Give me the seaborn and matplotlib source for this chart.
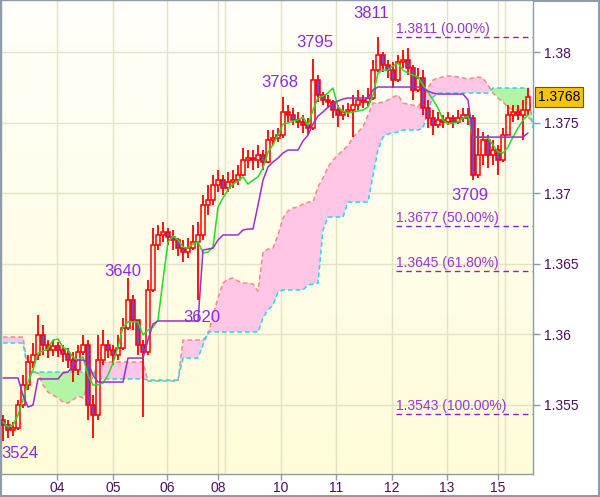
import matplotlib
matplotlib.use('Agg')
import matplotlib.pyplot as plt
from matplotlib.colors import LinearSegmentedColormap
import numpy as np
import pandas as pd
import seaborn as sns

# ---- bars (open = previous close) ----
first_open = 1.35390
close = [1.35355, 1.35320, 1.35334, 1.35497, 1.35639, 1.35802, 1.35852, 1.35994, 1.35923, 1.35887,
         1.35916, 1.35887, 1.35859, 1.35816, 1.35745, 1.35873, 1.35923, 1.35497, 1.35426, 1.35816,
         1.35923, 1.35887, 1.35852, 1.35901, 1.36043, 1.36242, 1.36100, 1.35923, 1.35873, 1.36313,
         1.36632, 1.36703, 1.36724, 1.36688, 1.36667, 1.36610, 1.36582, 1.36610, 1.36653, 1.36703,
         1.36915, 1.36950, 1.37057, 1.37092, 1.37036, 1.37078, 1.37092, 1.37128, 1.37234, 1.37248,
         1.37234, 1.37270, 1.37220, 1.37376, 1.37390, 1.37412, 1.37575, 1.37553, 1.37518, 1.37504,
         1.37482, 1.37461, 1.37801, 1.37695, 1.37660, 1.37645, 1.37589, 1.37553, 1.37575, 1.37589,
         1.37624, 1.37660, 1.37645, 1.37674, 1.37872, 1.37979, 1.37908, 1.37872, 1.37801, 1.37929,
         1.37943, 1.37887, 1.37731, 1.37816, 1.37603, 1.37532, 1.37482, 1.37518, 1.37504, 1.37532,
         1.37504, 1.37532, 1.37553, 1.37532, 1.37128, 1.37270, 1.37376, 1.37270, 1.37305, 1.37234,
         1.37412, 1.37553, 1.37575, 1.37553, 1.37589, 1.37680]
high = [1.35426, 1.35390, 1.35377, 1.35533, 1.35710, 1.35852, 1.35937, 1.36135, 1.36064, 1.35958,
        1.35958, 1.35944, 1.35923, 1.35901, 1.35873, 1.35923, 1.35994, 1.35958, 1.35568, 1.35994,
        1.36029, 1.35958, 1.35923, 1.35994, 1.36114, 1.36400, 1.36277, 1.36100, 1.35958, 1.36383,
        1.36752, 1.36773, 1.36795, 1.36752, 1.36738, 1.36680, 1.36667, 1.36680, 1.36773, 1.36795,
        1.36986, 1.37057, 1.37128, 1.37163, 1.37128, 1.37149, 1.37163, 1.37199, 1.37319, 1.37305,
        1.37305, 1.37341, 1.37305, 1.37447, 1.37447, 1.37461, 1.37680, 1.37624, 1.37603, 1.37575,
        1.37553, 1.37532, 1.37950, 1.37837, 1.37716, 1.37695, 1.37660, 1.37624, 1.37624, 1.37638,
        1.37695, 1.37731, 1.37695, 1.37745, 1.37943, 1.38110, 1.38000, 1.37943, 1.37929, 1.37979,
        1.38014, 1.38028, 1.37908, 1.37887, 1.37872, 1.37660, 1.37589, 1.37575, 1.37553, 1.37575,
        1.37553, 1.37589, 1.37603, 1.37603, 1.37553, 1.37461, 1.37433, 1.37412, 1.37376, 1.37341,
        1.37461, 1.37624, 1.37624, 1.37624, 1.37660, 1.37745]
low = [1.35240, 1.35263, 1.35277, 1.35320, 1.35476, 1.35604, 1.35760, 1.35816, 1.35852, 1.35830,
       1.35845, 1.35838, 1.35802, 1.35760, 1.35660, 1.35710, 1.35852, 1.35390, 1.35263, 1.35390,
       1.35781, 1.35830, 1.35781, 1.35816, 1.35887, 1.36029, 1.36029, 1.35852, 1.35412, 1.35852,
       1.36298, 1.36596, 1.36653, 1.36632, 1.36596, 1.36554, 1.36511, 1.36540, 1.36596, 1.36242,
       1.36667, 1.36844, 1.36915, 1.37007, 1.36986, 1.37007, 1.37036, 1.37057, 1.37120, 1.37178,
       1.37163, 1.37178, 1.37163, 1.37210, 1.37341, 1.37362, 1.37390, 1.37504, 1.37482, 1.37461,
       1.37426, 1.37412, 1.37447, 1.37645, 1.37624, 1.37603, 1.37532, 1.37468, 1.37518, 1.37539,
       1.37397, 1.37589, 1.37603, 1.37617, 1.37660, 1.37858, 1.37858, 1.37816, 1.37745, 1.37790,
       1.37887, 1.37837, 1.37660, 1.37717, 1.37553, 1.37461, 1.37412, 1.37461, 1.37461, 1.37482,
       1.37461, 1.37490, 1.37504, 1.37482, 1.37090, 1.37107, 1.37199, 1.37178, 1.37199, 1.37128,
       1.37220, 1.37412, 1.37504, 1.37518, 1.37376, 1.37553]

# ---- Ichimoku lines ----
tenkan = [1.35377, 1.35341, 1.35355, 1.35426, 1.35533, 1.35660, 1.35745, 1.35866, 1.35880, 1.35894,
          1.35958, 1.35965, 1.35908, 1.35887, 1.35838, 1.35816, 1.35838, 1.35710, 1.35639, 1.35639,
          1.35653, 1.35710, 1.35795, 1.35908, 1.36050, 1.36086, 1.36086, 1.36086, 1.35994, 1.36029,
          1.36050, 1.36100, 1.36383, 1.36653, 1.36695, 1.36667, 1.36617, 1.36610, 1.36639, 1.36653,
          1.36575, 1.36582, 1.36617, 1.36901, 1.36965, 1.37022, 1.37064, 1.37085, 1.37114, 1.37064,
          1.37092, 1.37114, 1.37178, 1.37291, 1.37341, 1.37412, 1.37490, 1.37497, 1.37511, 1.37518,
          1.37539, 1.37482, 1.37589, 1.37674, 1.37688, 1.37709, 1.37745, 1.37610, 1.37582, 1.37568,
          1.37575, 1.37582, 1.37589, 1.37610, 1.37695, 1.37851, 1.37872, 1.37872, 1.37901, 1.37922,
          1.37872, 1.37851, 1.37837, 1.37823, 1.37766, 1.37716, 1.37660, 1.37603, 1.37518, 1.37490,
          1.37497, 1.37504, 1.37532, 1.37546, 1.37397, 1.37397, 1.37397, 1.37390, 1.37341, 1.37291,
          1.37284, 1.37326, 1.37397, 1.37461, 1.37518, 1.37553]
kijun = [1.35689, 1.35689, 1.35689, 1.35689, 1.35568, 1.35483, 1.35497, 1.35682, 1.35682, 1.35682,
         1.35682, 1.35682, 1.35724, 1.35731, 1.35774, 1.35816, 1.35816, 1.35802, 1.35710, 1.35660,
         1.35660, 1.35660, 1.35660, 1.35660, 1.35660, 1.35830, 1.35830, 1.35830, 1.35830, 1.35958,
         1.36072, 1.36093, 1.36093, 1.36093, 1.36093, 1.36093, 1.36093, 1.36093, 1.36093, 1.36093,
         1.36596, 1.36603, 1.36610, 1.36667, 1.36703, 1.36703, 1.36703, 1.36703, 1.36738, 1.36745,
         1.36745, 1.36915, 1.37092, 1.37185, 1.37220, 1.37248, 1.37284, 1.37305, 1.37305, 1.37305,
         1.37369, 1.37412, 1.37490, 1.37546, 1.37575, 1.37610, 1.37631, 1.37653, 1.37667, 1.37674,
         1.37674, 1.37674, 1.37674, 1.37674, 1.37731, 1.37752, 1.37752, 1.37752, 1.37752, 1.37752,
         1.37752, 1.37752, 1.37752, 1.37752, 1.37745, 1.37723, 1.37709, 1.37702, 1.37702, 1.37702,
         1.37702, 1.37702, 1.37702, 1.37660, 1.37397, 1.37397, 1.37397, 1.37397, 1.37397, 1.37397,
         1.37397, 1.37397, 1.37397, 1.37397, 1.37397, 1.37426]
span_a = [1.35979, 1.35979, 1.35979, 1.35979, 1.35979, 1.35745, 1.35724, 1.35724, 1.35639, 1.35589,
          1.35568, 1.35547, 1.35518, 1.35511, 1.35533, 1.35561, 1.35547, 1.35639, 1.35696, 1.35795,
          1.35802, 1.35802, 1.35802, 1.35802, 1.35802, 1.35802, 1.35802, 1.35802, 1.35802, 1.35667,
          1.35667, 1.35667, 1.35667, 1.35667, 1.35667, 1.35667, 1.35958, 1.35958, 1.35958, 1.35958,
          1.35958, 1.35994, 1.36135, 1.36256, 1.36362, 1.36391, 1.36398, 1.36376, 1.36362, 1.36362,
          1.36355, 1.36305, 1.36582, 1.36603, 1.36610, 1.36703, 1.36823, 1.36873, 1.36894, 1.36901,
          1.36922, 1.36936, 1.36936, 1.37043, 1.37107, 1.37185, 1.37234, 1.37270, 1.37305, 1.37334,
          1.37397, 1.37433, 1.37468, 1.37553, 1.37638, 1.37638, 1.37645, 1.37660, 1.37680, 1.37695,
          1.37638, 1.37631, 1.37624, 1.37610, 1.37674, 1.37745, 1.37801, 1.37816, 1.37823, 1.37830,
          1.37830, 1.37823, 1.37816, 1.37809, 1.37816, 1.37823, 1.37816, 1.37766, 1.37709, 1.37674,
          1.37645, 1.37610, 1.37589, 1.37589, 1.37575, 1.37539, 1.37504]
span_b = [1.35937, 1.35937, 1.35937, 1.35937, 1.35937, 1.35731, 1.35731, 1.35731, 1.35731, 1.35731,
          1.35731, 1.35731, 1.35731, 1.35731, 1.35731, 1.35731, 1.35731, 1.35731, 1.35731, 1.35682,
          1.35682, 1.35682, 1.35682, 1.35682, 1.35682, 1.35682, 1.35682, 1.35682, 1.35682, 1.35674,
          1.35674, 1.35674, 1.35674, 1.35674, 1.35674, 1.35674, 1.35830, 1.35830, 1.35830, 1.35830,
          1.35923, 1.36015, 1.36015, 1.36015, 1.36015, 1.36015, 1.36015, 1.36015, 1.36015, 1.36015,
          1.36015, 1.36015, 1.36114, 1.36171, 1.36206, 1.36298, 1.36313, 1.36313, 1.36313, 1.36313,
          1.36313, 1.36348, 1.36355, 1.36362, 1.36738, 1.36830, 1.36830, 1.36830, 1.36830, 1.36936,
          1.36936, 1.36936, 1.36936, 1.36936, 1.37128, 1.37305, 1.37397, 1.37419, 1.37426, 1.37433,
          1.37447, 1.37447, 1.37447, 1.37447, 1.37461, 1.37589, 1.37680, 1.37709, 1.37709, 1.37709,
          1.37709, 1.37709, 1.37709, 1.37709, 1.37709, 1.37709, 1.37709, 1.37709, 1.37745, 1.37745,
          1.37745, 1.37745, 1.37745, 1.37745, 1.37745, 1.37745, 1.37461]

# ---- axis labels, fibonacci and swing labels ----
day_labels = ['04', '05', '06', '08', '10', '11', '12', '13', '15']
day_pos = [10.8, 22, 32.8, 43, 55.6, 66.6, 77.8, 88.8, 99]
week_lines = [44.4, 100.4]
price_ticks = [1.355, 1.36, 1.365, 1.37, 1.375, 1.38]
fib_levels = [1.3811, 1.3677, 1.3645, 1.3543]
fib_pct = ['0.00%', '50.00%', '61.80%', '100.00%']
swing_labels = ['3524', '3640', '3620', '3768', '3795', '3811', '3709']
swing_bar = [3, 25, 40, 56, 62, 75, 94]
last_price = 1.3768

# ---- build frames ----
bars = pd.DataFrame({'close': close, 'high': high, 'low': low})
bars['open'] = [first_open] + close[:-1]
bars['x'] = np.arange(len(bars))
cloud = pd.DataFrame({'a': span_a, 'b': span_b})
cloud['x'] = np.arange(len(cloud))

sns.set_theme(style='white')
plt.rcParams['font.family'] = ['Liberation Sans', 'DejaVu Sans']

fig = plt.figure(figsize=(6, 4.97), dpi=100)
fig.patch.set_facecolor('white')
fig.patch.set_edgecolor('#8c9ca8')
fig.patch.set_linewidth(1.5)
ax = fig.add_axes([1 / 600, 23 / 497, 532 / 600, 474 / 497])
xlim = (-0.4, 106)
ylim = (1.35008, 1.38369)

# gradient background
bg = LinearSegmentedColormap.from_list('bg', ['#fffcd8', '#fffffa'])
ax.imshow(np.linspace(0, 1, 256).reshape(-1, 1), origin='lower', cmap=bg,
          extent=[xlim[0], xlim[1], ylim[0], ylim[1]], aspect='auto', zorder=0)

# grid
for p in price_ticks:
    ax.axhline(p, color='#e2e2c4', lw=1, zorder=1)
for d in day_pos + week_lines:
    ax.axvline(d, color='#e2e2c4', lw=1, zorder=1)

# ichimoku cloud
a = cloud['a'].values
b = cloud['b'].values
ax.fill_between(cloud['x'], a, b, where=a >= b, interpolate=True,
                color='#ffc6e6', lw=0, zorder=2)
ax.fill_between(cloud['x'], a, b, where=a < b, interpolate=True,
                color='#b2f5a4', lw=0, zorder=2)
sns.lineplot(data=cloud, x='x', y='a', ax=ax, color='#f58a84', lw=1.1,
             linestyle=(0, (3, 2)), zorder=3)
sns.lineplot(data=cloud, x='x', y='b', ax=ax, color='#22d8f0', lw=1.1,
             linestyle=(0, (3, 2)), zorder=3)

# candles
ax.vlines(bars['x'], bars['low'], bars['high'], color='#ff0000', lw=1.3, zorder=4)
down = bars['close'] < bars['open']
body_lo = np.minimum(bars['open'], bars['close'])
body_h = np.maximum(np.abs(bars['close'] - bars['open']), 0.00003)
ax.bar(bars['x'], body_h, bottom=body_lo, width=0.72,
       color=np.where(down, '#6e4ad4', '#fffbe0'), edgecolor='#ff0000',
       lw=1.1, zorder=5)

# tenkan / kijun
sns.lineplot(x=bars['x'], y=tenkan, ax=ax, color='#22dd22', lw=1.1, zorder=6)
sns.lineplot(x=bars['x'], y=kijun, ax=ax, color='#9a2fd0', lw=1.1, zorder=6)

# fibonacci levels
fib_x0 = 78.6
for lvl, pct in zip(fib_levels, fib_pct):
    ax.hlines(lvl, fib_x0, xlim[1], colors='#8a1fd0', linestyles=(0, (4, 3)),
              lw=1, zorder=7)
    ax.annotate(f'{lvl:.4f} ({pct})', xy=(fib_x0 + 0.1, lvl), xytext=(0, 1),
                textcoords='offset pixels', ha='left', va='bottom',
                fontsize=10, color='#9535d6', zorder=8)

# swing labels
offsets = [(2, -12), (-5, 6), (-1, -12), (-3, 15), (2, 17), (-7, 23), (-3, -15)]
for txt, bi, (dx, dy) in zip(swing_labels, swing_bar, offsets):
    ax.annotate(txt, xy=(bi, 1 + int(txt) / 10000), xytext=(dx, dy),
                textcoords='offset pixels', ha='center', va='center',
                fontsize=12, color='#8a2be2', zorder=8)

# current price tag
ax.annotate(f'{last_price:.4f}', xy=(1, last_price),
            xycoords=('axes fraction', 'data'), xytext=(5, 0),
            textcoords='offset pixels', ha='left', va='center', fontsize=10,
            color='black', annotation_clip=False,
            bbox=dict(boxstyle='square,pad=0.22', fc='#f7c400', ec='#6b5200', lw=0.8))

ax.set_xlim(xlim)
ax.set_ylim(ylim)
ax.yaxis.tick_right()
ax.set_yticks(price_ticks)
ax.set_yticklabels([f'{p:g}' for p in price_ticks])
ax.set_xticks(day_pos)
ax.set_xticklabels(day_labels)
ax.tick_params(axis='both', colors='#8c9ca8', labelcolor='#4b0f5e',
               labelsize=10, length=5, width=1, direction='out')
ax.tick_params(axis='y', right=True, left=False, pad=3)
ax.tick_params(axis='x', bottom=True, length=4, pad=1)
ax.set_xlabel('')
ax.set_ylabel('')
for s in ax.spines.values():
    s.set_color('#8c9ca8')
    s.set_linewidth(1)

fig.savefig('out.png', dpi=100)
